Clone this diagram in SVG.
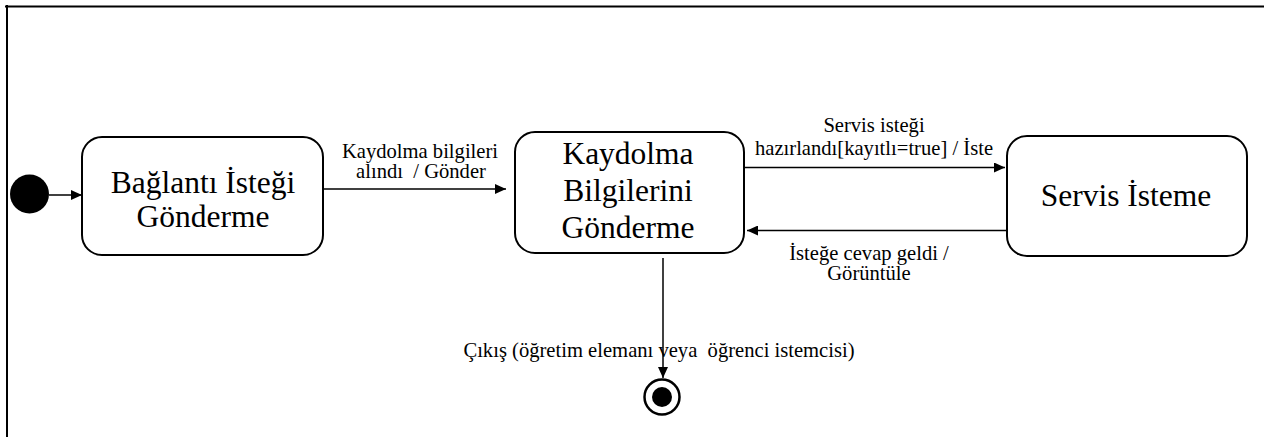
<svg xmlns="http://www.w3.org/2000/svg" width="1265" height="437" viewBox="0 0 1265 437">
<style>
.state{fill:#fff;stroke:#000;stroke-width:2}
text{font-family:'Liberation Serif','Times New Roman',Tinos,'DejaVu Serif',serif;fill:#000;text-anchor:middle}
.name{font-size:31.5px}
.lbl{font-size:20.6px}
.edge{stroke:#000;stroke-width:1.5;fill:none}
</style>
<defs>
<marker id="arr" markerWidth="12" markerHeight="10" refX="11" refY="5" orient="auto" markerUnits="userSpaceOnUse">
<path d="M0,0 L11,5 L0,10 Z" fill="#000"/>
</marker>
</defs>
<g id="frame">
<line x1="5" y1="6.5" x2="1264" y2="6.5" stroke="#000" stroke-width="2"/>
<line x1="7" y1="5" x2="7" y2="437" stroke="#000" stroke-width="2"/>
</g>
<g id="initial">
<circle cx="29.5" cy="194" r="19.5" fill="#000"/>
</g>
<g id="n1">
<rect class="state" x="82" y="137" width="241" height="118" rx="20" ry="20"/>
<text class="name" x="203" y="193">Bağlantı İsteği</text>
<text class="name" x="203" y="227">Gönderme</text>
</g>
<g id="n2">
<rect class="state" x="515" y="132" width="229" height="121" rx="20" ry="20"/>
<text class="name" x="628" y="164">Kaydolma</text>
<text class="name" x="628" y="201">Bilgilerini</text>
<text class="name" x="628" y="238">Gönderme</text>
</g>
<g id="n3">
<rect class="state" x="1007" y="136" width="240" height="120" rx="20" ry="20"/>
<text class="name" x="1126" y="206">Servis İsteme</text>
</g>
<g id="final">
<circle cx="662" cy="397" r="17.5" fill="#fff" stroke="#000" stroke-width="2.5"/>
<circle cx="662" cy="397" r="10" fill="#000"/>
</g>
<g id="connectors">
<line class="edge" x1="49" y1="195" x2="82" y2="195" marker-end="url(#arr)"/>
<line class="edge" x1="323" y1="189" x2="506" y2="189" marker-end="url(#arr)"/>
<line class="edge" x1="744" y1="167.5" x2="1005" y2="167.5" marker-end="url(#arr)"/>
<line class="edge" x1="1007" y1="230.5" x2="747" y2="230.5" marker-end="url(#arr)"/>
<line class="edge" x1="663" y1="258" x2="663" y2="378" marker-end="url(#arr)"/>
<text class="lbl" x="420" y="157.5">Kaydolma bilgileri</text>
<text class="lbl" x="421" y="177.5" xml:space="preserve">alındı  / Gönder</text>
<text class="lbl" x="874" y="132">Servis isteği</text>
<text class="lbl" x="874" y="155">hazırlandı[kayıtlı=true] / İste</text>
<text class="lbl" x="869" y="260">İsteğe cevap geldi /</text>
<text class="lbl" x="869" y="280">Görüntüle</text>
<text class="lbl" x="659" y="357" xml:space="preserve">Çıkış (öğretim elemanı veya  öğrenci istemcisi)</text>
</g>
</svg>
